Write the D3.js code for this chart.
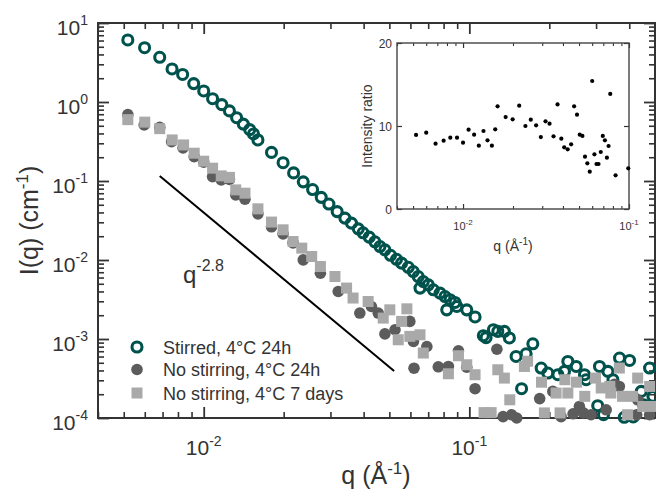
<!DOCTYPE html>
<html>
<head>
<meta charset="utf-8">
<script src="https://cdn.jsdelivr.net/npm/d3@7"></script>
<style>
  body { margin: 0; background: #fff; }
  text { font-family: "Liberation Sans", Arial, sans-serif; fill: #333; }
</style>
</head>
<body>
<div id="chart"></div>
<script>
// Stirred, 4°C 24h  [q (1/A), I (1/cm)]
var stirred = [
  [0.00518, 6.10], [0.00599, 4.87], [0.00683, 3.68], [0.00760, 2.62], [0.00833, 2.23],
  [0.00917, 1.71], [0.0100, 1.38], [0.0108, 1.10], [0.0117, 0.926], [0.0125, 0.771],
  [0.0133, 0.632], [0.0141, 0.525], [0.0149, 0.447], [0.0154, 0.394], [0.0160, 0.331],
  [0.0180, 0.230], [0.0199, 0.1705], [0.0218, 0.1267], [0.0237, 0.0975], [0.0257, 0.0779],
  [0.0277, 0.0621], [0.0296, 0.0511], [0.0318, 0.0410], [0.0340, 0.0339], [0.0360, 0.0293],
  [0.0382, 0.0248], [0.0398, 0.0221], [0.0420, 0.0195], [0.0441, 0.0170], [0.0461, 0.0148],
  [0.0481, 0.01345], [0.0505, 0.01146], [0.0532, 0.0102], [0.0556, 0.00913], [0.0589, 0.00808],
  [0.0615, 0.00715], [0.0642, 0.00618], [0.0652, 0.00441], [0.0671, 0.00534], [0.0701, 0.00485],
  [0.0732, 0.00420], [0.0776, 0.00381], [0.0810, 0.00345], [0.0822, 0.00234], [0.0846, 0.00314],
  [0.0883, 0.00290], [0.0897, 0.00258], [0.0978, 0.00234], [0.1051, 0.00190], [0.1129, 0.00110],
  [0.1156, 0.00104], [0.1232, 0.00131], [0.128, 0.00125], [0.1355, 0.00125], [0.1415, 0.00103],
  [0.150, 0.000601], [0.1573, 0.000235], [0.1636, 0.000650], [0.1734, 0.000870], [0.1864, 0.000429],
  [0.1975, 0.000371], [0.2154, 0.000353], [0.2281, 0.000389], [0.2349, 0.000520], [0.2525, 0.000449],
  [0.2713, 0.000353], [0.2754, 0.000305], [0.3043, 0.000143], [0.309, 0.000449], [0.320, 0.000110],
  [0.3325, 0.000389], [0.3472, 0.000305], [0.3677, 0.000574], [0.383, 0.000102], [0.401, 0.000535],
  [0.414, 0.000103], [0.444, 0.000217], [0.453, 0.000147], [0.477, 0.000429], [0.491, 0.000188]
];

// No stirring, 4°C 24h
var noStir24h = [
  [0.00518, 0.692], [0.00597, 0.513], [0.00683, 0.477], [0.00757, 0.315], [0.00836, 0.262],
  [0.00921, 0.2036], [0.0100, 0.1735], [0.0108, 0.1137], [0.01164, 0.1033], [0.0125, 0.1048],
  [0.0132, 0.0668], [0.0143, 0.0589], [0.0160, 0.0384], [0.0180, 0.0263], [0.0199, 0.0214],
  [0.0217, 0.01649], [0.0237, 0.01005], [0.0275, 0.00682], [0.0321, 0.00399], [0.0387, 0.00213],
  [0.0428, 0.00258], [0.0454, 0.00213], [0.0481, 0.00116], [0.0525, 0.00131], [0.0597, 0.00167],
  [0.0616, 0.000931], [0.0619, 0.000427], [0.0692, 0.000804], [0.0764, 0.000445], [0.0834, 0.000449],
  [0.0910, 0.000710], [0.0978, 0.000439], [0.1051, 0.000235], [0.1270, 0.000742], [0.1340, 0.000104],
  [0.1443, 0.000110], [0.1508, 0.000100], [0.1840, 0.000176], [0.2062, 0.000217], [0.2215, 0.000104],
  [0.2458, 0.000113], [0.2596, 0.000140], [0.2687, 0.000116], [0.2872, 0.000110], [0.3275, 0.000127],
  [0.3522, 0.000268], [0.3670, 0.000251], [0.4266, 0.000110], [0.4303, 0.000170], [0.4773, 0.000110]
];

// No stirring, 4°C 7 days
var noStir7d = [
  [0.00518, 0.598], [0.00600, 0.556], [0.00683, 0.460], [0.00761, 0.331], [0.00840, 0.286],
  [0.00921, 0.2248], [0.0100, 0.1781], [0.0108, 0.1453], [0.01164, 0.1161], [0.0125, 0.1111],
  [0.0132, 0.0772], [0.0143, 0.0701], [0.0160, 0.0444], [0.0180, 0.0302], [0.0199, 0.0241],
  [0.0217, 0.01713], [0.0234, 0.01414], [0.0255, 0.01107], [0.0275, 0.00827], [0.0312, 0.00618],
  [0.0345, 0.00441], [0.0365, 0.00330], [0.0416, 0.00298], [0.0474, 0.00184], [0.0502, 0.00234],
  [0.0540, 0.000978], [0.0556, 0.00167], [0.0582, 0.00241], [0.0597, 0.00108], [0.0652, 0.00113],
  [0.0671, 0.000664], [0.0834, 0.000363], [0.0910, 0.000614], [0.0978, 0.000472], [0.1051, 0.000353],
  [0.1136, 0.000117], [0.1208, 0.000117], [0.1280, 0.000408], [0.1355, 0.000320], [0.1420, 0.000170],
  [0.1612, 0.000449], [0.1657, 0.000523], [0.1869, 0.000284], [0.1917, 0.000116], [0.2122, 0.000207],
  [0.2196, 0.000116], [0.2288, 0.000305], [0.2349, 0.000207], [0.2530, 0.000284], [0.2720, 0.000188],
  [0.2985, 0.000320], [0.3137, 0.000240], [0.3381, 0.000251], [0.3410, 0.000207], [0.3670, 0.000429],
  [0.3774, 0.000188], [0.3943, 0.000110], [0.4119, 0.000188], [0.4303, 0.000320], [0.4497, 0.000140],
  [0.4773, 0.000251], [0.4921, 0.000140]
];

// inset: intensity ratio vs q
var ratioQ = [0.00521, 0.0060, 0.00683, 0.00764, 0.00838, 0.0092, 0.0100, 0.0108, 0.01166, 0.01245,
  0.01328, 0.01404, 0.01492, 0.01563, 0.01615, 0.01806, 0.0199, 0.0218, 0.02376, 0.0256,
  0.02756, 0.02943, 0.0314, 0.0332, 0.0351, 0.0371, 0.0391, 0.0407, 0.0427, 0.0448,
  0.0467, 0.0486, 0.0505, 0.0524, 0.0543, 0.0561, 0.0580, 0.0600, 0.0619, 0.0637,
  0.0655, 0.0676, 0.0695, 0.0716, 0.0736, 0.0753, 0.0771, 0.083, 0.099];
var ratioVal = [8.92, 9.2, 7.87, 8.23, 8.59, 8.59, 7.99, 9.56, 8.96, 7.63,
  9.40, 8.27, 7.63, 9.6, 12.37, 11.08, 10.8, 12.45, 10.0, 10.76,
  10.08, 8.67, 10.56, 10.28, 8.76, 12.6, 8.47, 7.43, 7.19, 7.79,
  12.37, 11.37, 8.96, 8.8, 6.31, 5.5, 4.5, 15.42, 6.59, 5.42,
  5.42, 6.87, 8.8, 8.27, 6.18, 7.59, 13.86, 4.06, 4.9];

// power-law guide line q^-2.8
var guideExp = -2.8;
var guideQ = [0.00683, 0.0521];
var guideI0 = 0.116;

var seriesNames = ["Stirred, 4\u00B0C 24h", "No stirring, 4\u00B0C 24h", "No stirring, 4\u00B0C 7 days"];
var yDecades = [-4, -3, -2, -1, 0, 1];
var xDecades = [-2, -1];
var insetXDecades = [-2, -1];
var insetYTicks = [0, 10, 20];

var teal = "#00524c", darkGray = "#5c5c5c", lightGray = "#a9a9a9", axisCol = "#333";

var svgWidth = 656, svgHeight = 499;
var margin = { top: 23, left: 98, right: 1, bottom: 81 };
var chartWidth = svgWidth - margin.left - margin.right;
var chartHeight = svgHeight - margin.top - margin.bottom;

var svg = d3.select("#chart").append("svg")
  .attr("width", svgWidth).attr("height", svgHeight);

var xScale = d3.scaleLog().domain([0.004, 0.5]).range([margin.left, margin.left + chartWidth]);
var yScale = d3.scaleLog().domain([1e-4, 10]).range([margin.top + chartHeight, margin.top]);

// minor tick values for a log scale
function minorTicks(domain) {
  var out = [];
  var lo = Math.floor(Math.log10(domain[0])), hi = Math.ceil(Math.log10(domain[1]));
  for (var e = lo; e < hi; e++) {
    for (var m = 2; m < 10; m++) {
      var v = m * Math.pow(10, e);
      if (v >= domain[0] && v <= domain[1]) out.push(v);
    }
  }
  return out;
}

function drawTicks(g, axisFn, scale, values, size, tx, ty, width) {
  var a = g.append("g")
    .attr("transform", "translate(" + tx + "," + ty + ")")
    .call(axisFn(scale).tickValues(values).tickSize(-size).tickFormat(""));
  a.select(".domain").remove();
  a.selectAll("line").attr("stroke", axisCol).attr("stroke-width", width);
}

// ---- main frame and ticks
var axesG = svg.append("g");
var xMajor = xDecades.map(function(e) { return Math.pow(10, e); });
var yMajor = yDecades.map(function(e) { return Math.pow(10, e); });
var xMinor = minorTicks(xScale.domain());
var yMinor = minorTicks(yScale.domain());
var bottomY = margin.top + chartHeight, rightX = margin.left + chartWidth;

drawTicks(axesG, d3.axisBottom, xScale, xMajor, 11, 0, bottomY, 1.8);
drawTicks(axesG, d3.axisBottom, xScale, xMinor, 6, 0, bottomY, 1.6);
drawTicks(axesG, d3.axisTop, xScale, xMajor, 11, 0, margin.top, 1.8);
drawTicks(axesG, d3.axisTop, xScale, xMinor, 6, 0, margin.top, 1.6);
drawTicks(axesG, d3.axisLeft, yScale, yMajor, 11, margin.left, 0, 1.8);
drawTicks(axesG, d3.axisLeft, yScale, yMinor, 6, margin.left, 0, 1.6);
drawTicks(axesG, d3.axisRight, yScale, yMajor, 11, rightX, 0, 1.8);
drawTicks(axesG, d3.axisRight, yScale, yMinor, 6, rightX, 0, 1.6);

axesG.append("rect")
  .attr("x", margin.left).attr("y", margin.top)
  .attr("width", chartWidth).attr("height", chartHeight)
  .attr("fill", "none").attr("stroke", axisCol).attr("stroke-width", 2);

// power-of-ten label
function powLabel(sel, exp, supSize, dy) {
  sel.append("tspan").text("10");
  sel.append("tspan").attr("font-size", supSize).attr("dy", dy).text(exp);
}

yDecades.forEach(function(e) {
  var t = svg.append("text")
    .attr("x", 88).attr("y", yScale(Math.pow(10, e)) + 12)
    .attr("text-anchor", "end").attr("font-size", 21);
  powLabel(t, e, 14, -10);
});
xDecades.forEach(function(e) {
  var t = svg.append("text")
    .attr("x", xScale(Math.pow(10, e))).attr("y", 455)
    .attr("text-anchor", "middle").attr("font-size", 21);
  powLabel(t, e, 14, -9);
});

// axis titles
var xTitle = svg.append("text").attr("x", 376).attr("y", 484)
  .attr("text-anchor", "middle").attr("font-size", 25);
xTitle.append("tspan").text("q (\u00C5");
xTitle.append("tspan").attr("font-size", 17).attr("dy", -10).text("-1");
xTitle.append("tspan").attr("dy", 10).text(")");

var yTitle = svg.append("text")
  .attr("transform", "translate(38," + (margin.top + chartHeight / 2) + ") rotate(-90)")
  .attr("text-anchor", "middle").attr("font-size", 25);
yTitle.append("tspan").text("I(q) (cm");
yTitle.append("tspan").attr("font-size", 17).attr("dy", -10).text("-1");
yTitle.append("tspan").attr("dy", 10).text(")");

// ---- guide line
svg.append("line")
  .attr("x1", xScale(guideQ[0])).attr("y1", yScale(guideI0))
  .attr("x2", xScale(guideQ[1])).attr("y2", yScale(guideI0 * Math.pow(guideQ[1] / guideQ[0], guideExp)))
  .attr("stroke", "#000").attr("stroke-width", 2);

var gl = svg.append("text").attr("x", 183).attr("y", 283).attr("font-size", 24).attr("fill", "#111");
gl.append("tspan").text("q");
gl.append("tspan").attr("font-size", 16).attr("dy", -12).text(guideExp);

// ---- data
var dataG = svg.append("g");
dataG.selectAll("circle.stir").data(stirred).enter().append("circle")
  .attr("class", "stir")
  .attr("cx", function(d) { return xScale(d[0]); })
  .attr("cy", function(d) { return yScale(d[1]); })
  .attr("r", 5).attr("fill", "none").attr("stroke", teal).attr("stroke-width", 3.1);

dataG.selectAll("circle.ns24").data(noStir24h).enter().append("circle")
  .attr("class", "ns24")
  .attr("cx", function(d) { return xScale(d[0]); })
  .attr("cy", function(d) { return yScale(d[1]); })
  .attr("r", 5.8).attr("fill", darkGray);

dataG.selectAll("rect.ns7").data(noStir7d).enter().append("rect")
  .attr("class", "ns7")
  .attr("x", function(d) { return xScale(d[0]) - 5.5; })
  .attr("y", function(d) { return yScale(d[1]) - 5.5; })
  .attr("width", 11).attr("height", 11).attr("fill", lightGray);

// ---- legend
var legY = [347, 369.5, 393];
var leg = svg.append("g");
leg.append("circle").attr("cx", 137).attr("cy", legY[0]).attr("r", 5)
  .attr("fill", "none").attr("stroke", teal).attr("stroke-width", 3.1);
leg.append("circle").attr("cx", 137).attr("cy", legY[1]).attr("r", 5.8).attr("fill", darkGray);
leg.append("rect").attr("x", 131.5).attr("y", legY[2] - 5.5).attr("width", 11).attr("height", 11).attr("fill", lightGray);
seriesNames.forEach(function(n, i) {
  leg.append("text").attr("x", 163).attr("y", legY[i] + 6.5).attr("font-size", 18).attr("fill", "#222").text(n);
});

// ---- inset
var inset = { left: 397, right: 629, top: 43, bottom: 209 };
var ix = d3.scaleLog().domain([0.004, 0.1]).range([inset.left, inset.right]);
var iy = d3.scaleLinear().domain([0, 20]).range([inset.bottom, inset.top]);
var insetG = svg.append("g");

var ixMajor = insetXDecades.map(function(e) { return Math.pow(10, e); });
var ixMinor = minorTicks(ix.domain());
drawTicks(insetG, d3.axisBottom, ix, ixMajor, 5, 0, inset.bottom, 1.2);
drawTicks(insetG, d3.axisBottom, ix, ixMinor, 3, 0, inset.bottom, 1.1);
drawTicks(insetG, d3.axisTop, ix, ixMajor, 5, 0, inset.top, 1.2);
drawTicks(insetG, d3.axisTop, ix, ixMinor, 3, 0, inset.top, 1.1);
drawTicks(insetG, d3.axisLeft, iy, insetYTicks, 5, inset.left, 0, 1.2);
drawTicks(insetG, d3.axisRight, iy, insetYTicks, 5, inset.right, 0, 1.2);

insetG.append("rect")
  .attr("x", inset.left).attr("y", inset.top)
  .attr("width", inset.right - inset.left).attr("height", inset.bottom - inset.top)
  .attr("fill", "none").attr("stroke", "#444").attr("stroke-width", 1.4);

insetYTicks.forEach(function(v) {
  insetG.append("text").attr("x", 392).attr("y", iy(v) + 4.5)
    .attr("text-anchor", "end").attr("font-size", 12).attr("fill", "#444").text(v);
});
insetXDecades.forEach(function(e) {
  var t = insetG.append("text").attr("x", ix(Math.pow(10, e))).attr("y", 230)
    .attr("text-anchor", "middle").attr("font-size", 11).attr("fill", "#444");
  powLabel(t, e, 8, -5);
});

var iq = insetG.append("text").attr("x", 513).attr("y", 251)
  .attr("text-anchor", "middle").attr("font-size", 14).attr("fill", "#444");
iq.append("tspan").text("q (\u00C5");
iq.append("tspan").attr("font-size", 10).attr("dy", -6).text("-1");
iq.append("tspan").attr("dy", 6).text(")");

insetG.append("text")
  .attr("transform", "translate(372," + ((inset.top + inset.bottom) / 2) + ") rotate(-90)")
  .attr("text-anchor", "middle").attr("font-size", 14).attr("fill", "#444").text("Intensity ratio");

insetG.selectAll("circle.ratio").data(ratioQ).enter().append("circle")
  .attr("class", "ratio")
  .attr("cx", function(d) { return ix(d); })
  .attr("cy", function(d, i) { return iy(ratioVal[i]); })
  .attr("r", 2.1).attr("fill", "#000");
</script>
</body>
</html>
